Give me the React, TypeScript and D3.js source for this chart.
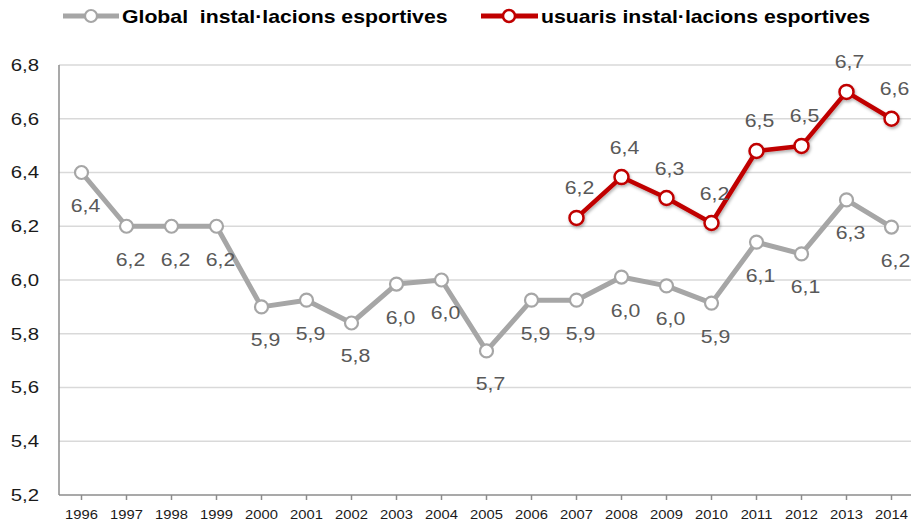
import React from "react";
import * as d3 from "d3";

const years = ["1996","1997","1998","1999","2000","2001","2002","2003","2004","2005","2006","2007","2008","2009","2010","2011","2012","2013","2014"];
const globalValues = [6.4, 6.2, 6.2, 6.2, 5.9, 5.925, 5.84, 5.985, 6.0, 5.736, 5.925, 5.925, 6.011, 5.978, 5.914, 6.141, 6.097, 6.298, 6.197];
const usuarisYears = ["2007","2008","2009","2010","2011","2012","2013","2014"];
const usuarisValues = [6.231, 6.383, 6.305, 6.212, 6.48, 6.499, 6.70, 6.6];
const yTicks = [5.2, 5.4, 5.6, 5.8, 6.0, 6.2, 6.4, 6.6, 6.8];
const legendLabels = ["Global  instal·lacions esportives", "usuaris instal·lacions esportives"];

const W = 911, H = 525;
const GRAY = "#a6a6a6";
const RED = "#c00000";
const SX = 1.18;

const fmt = (v: number) => v.toFixed(1).replace(".", ",");

export default function App() {
  const x = d3.scaleBand<string>().domain(years).range([59, 914]).paddingInner(0).paddingOuter(0);
  const cx = (yr: string) => (x(yr) as number) + x.bandwidth() / 2;
  const y = d3.scaleLinear().domain([5.2, 6.8]).range([495, 65]);

  const gData = years.map((yr, i) => ({ yr, v: globalValues[i] }));
  const rData = usuarisYears.map((yr, i) => ({ yr, v: usuarisValues[i] }));
  const line = d3.line<{ yr: string; v: number }>().x(d => cx(d.yr)).y(d => y(d.v));

  return (
    <svg width={W} height={H} style={{ position: "absolute", left: 0, top: 0, background: "#fff" }}
      fontFamily="'Liberation Sans', Arial, sans-serif">
      <defs>
        <filter id="sh" x="-20%" y="-20%" width="140%" height="140%">
          <feDropShadow dx="1" dy="2" stdDeviation="1.5" floodColor="#000" floodOpacity="0.3" />
        </filter>
      </defs>
      <rect width={W} height={H} fill="#fff" />
      {/* gridlines */}
      {yTicks.filter(t => t > 5.2).map(t => (
        <line key={t} x1={59} x2={W} y1={y(t)} y2={y(t)} stroke="#d9d9d9" strokeWidth={1.5} />
      ))}
      {/* axes */}
      <line x1={59} x2={59} y1={y(6.8)} y2={y(5.2)} stroke="#8c8c8c" strokeWidth={1.5} />
      <line x1={59} x2={W} y1={y(5.2)} y2={y(5.2)} stroke="#8c8c8c" strokeWidth={1.5} />
      {years.map(yr => (
        <line key={yr} x1={cx(yr)} x2={cx(yr)} y1={y(5.2)} y2={y(5.2) + 5} stroke="#8c8c8c" strokeWidth={1.5} />
      ))}
      {yTicks.map(t => (
        <text key={t} transform={`translate(39,${y(t)}) scale(1.2,1)`} textAnchor="end" dominantBaseline="central"
          fontSize={17} fill="#1a1a1a">{fmt(t)}</text>
      ))}
      {years.map(yr => (
        <text key={yr} transform={`translate(${cx(yr)},519) scale(${SX},1)`} textAnchor="middle"
          fontSize={12.5} fill="#1a1a1a">{yr}</text>
      ))}
      {/* global series */}
      <path d={line(gData) as string} fill="none" stroke={GRAY} strokeWidth={5} strokeLinejoin="round" />
      {gData.map(d => (
        <circle key={d.yr} cx={cx(d.yr)} cy={y(d.v)} r={6.5} fill="#fff" stroke={GRAY} strokeWidth={2.2} />
      ))}
      {gData.map(d => (
        <text key={d.yr} transform={`translate(${cx(d.yr) + 4},${y(d.v) + 33}) scale(1.15,1)`} textAnchor="middle"
          dominantBaseline="central" fontSize={18.5} fill="#595959">{fmt(d.v)}</text>
      ))}
      {/* usuaris series */}
      <g filter="url(#sh)">
        <path d={line(rData) as string} fill="none" stroke={RED} strokeWidth={4.5} strokeLinejoin="round" />
        {rData.map(d => (
          <circle key={d.yr} cx={cx(d.yr)} cy={y(d.v)} r={7} fill="#fff" stroke={RED} strokeWidth={2.5} />
        ))}
      </g>
      {rData.map(d => (
        <text key={d.yr} transform={`translate(${cx(d.yr) + 3},${y(d.v) - 30}) scale(1.15,1)`} textAnchor="middle"
          dominantBaseline="central" fontSize={18.5} fill="#595959">{fmt(d.v)}</text>
      ))}
      {/* legend */}
      <g>
        <line x1={63} x2={119} y1={16} y2={16} stroke={GRAY} strokeWidth={5} />
        <circle cx={91} cy={16} r={6} fill="#fff" stroke={GRAY} strokeWidth={2.2} />
        <text transform={`translate(122,22.5) scale(${SX},1)`} fontSize={18} fontWeight="bold" fill="#000"
          style={{ whiteSpace: "pre" }}>{legendLabels[0]}</text>
        <line x1={481} x2={538} y1={16} y2={16} stroke={RED} strokeWidth={5} />
        <circle cx={509} cy={16} r={6} fill="#fff" stroke={RED} strokeWidth={2.5} />
        <text transform={`translate(541,22.5) scale(${SX},1)`} fontSize={18} fontWeight="bold" fill="#000">{legendLabels[1]}</text>
      </g>
    </svg>
  );
}
